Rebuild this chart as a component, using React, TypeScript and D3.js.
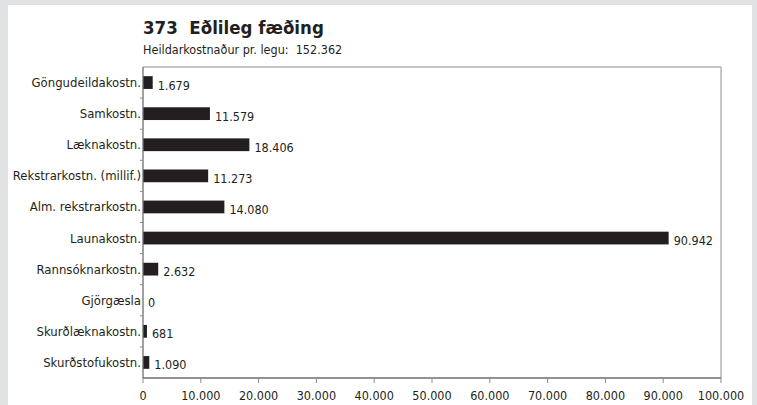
import React from "react";
import * as d3 from "d3";

const categories = [
  "Göngudeildakostn.",
  "Samkostn.",
  "Læknakostn.",
  "Rekstrarkostn. (millif.)",
  "Alm. rekstrarkostn.",
  "Launakostn.",
  "Rannsóknarkostn.",
  "Gjörgæsla",
  "Skurðlæknakostn.",
  "Skurðstofukostn.",
];
const values = [1679, 11579, 18406, 11273, 14080, 90942, 2632, 0, 681, 1090];
const xTicks = [0, 10000, 20000, 30000, 40000, 50000, 60000, 70000, 80000, 90000, 100000];
const titleText = "373  Eðlileg fæðing";
const subtitleText = "Heildarkostnaður pr. legu:  152.362";

const W = 757;
const H = 405;
const FONT = "'DejaVu Sans Condensed', 'Liberation Sans Narrow', 'Noto Sans', sans-serif";
const INK = "#231f20";

const locale = d3.formatLocale({ decimal: ",", thousands: ".", grouping: [3], currency: ["", ""] });
const fmt = locale.format(",d");

export default function App() {
  const m = { left: 143, right: 721, top: 67, bottom: 378 };
  const x = d3.scaleLinear().domain([0, 100000]).range([m.left, m.right]);
  const y = d3.scaleBand<string>().domain(categories).range([m.top, m.bottom]).paddingInner(0.59).paddingOuter(0.295);
  const yStep = d3.scaleBand<string>().domain(categories).range([m.top, m.bottom]).padding(0);

  return (
    <svg width={W} height={H} style={{ position: "absolute", left: 0, top: 0, fontFamily: FONT }}>
      <rect x={0} y={0} width={W} height={H} fill="#e1e2e4" />
      <rect x={8} y={5} width={744} height={H - 5} fill="#ffffff" />

      <text x={m.left} y={34} fontSize={18.5} fontWeight="bold" fill={INK} style={{ whiteSpace: "pre" }}>{titleText}</text>
      <text x={m.left} y={54} fontSize={12.5} fill={INK} style={{ whiteSpace: "pre" }}>{subtitleText}</text>

      {/* frame */}
      <line x1={m.left} x2={m.right} y1={m.top} y2={m.top} stroke="#b3b3b3" strokeWidth={1.5} />
      <line x1={m.right} x2={m.right} y1={m.top} y2={m.bottom} stroke="#b3b3b3" strokeWidth={1.5} />

      {/* bars */}
      {categories.map((c, i) => (
        <rect key={c} x={x(0)} y={y(c)!} width={x(values[i]) - x(0)} height={y.bandwidth()} fill={INK} />
      ))}

      {/* y axis */}
      <line x1={m.left} x2={m.left} y1={m.top} y2={m.bottom} stroke="#6d6e70" strokeWidth={1.3} />
      {categories.slice(1).map((c) => (
        <line key={"t" + c} x1={m.left - 3} x2={m.left} y1={yStep(c)!} y2={yStep(c)!} stroke="#8a8b8d" strokeWidth={1} />
      ))}
      {categories.map((c) => (
        <text key={"l" + c} x={m.left - 2} y={y(c)! + y.bandwidth() / 2 + 4.5} fontSize={13} textAnchor="end" fill={INK}>
          {c}
        </text>
      ))}

      {/* value labels */}
      {categories.map((c, i) => (
        <text key={"v" + c} x={x(values[i]) + 5} y={y(c)! + y.bandwidth() / 2 + 7} fontSize={12.5} fill={INK}>
          {fmt(values[i])}
        </text>
      ))}

      {/* x axis */}
      <line x1={m.left} x2={m.right} y1={m.bottom} y2={m.bottom} stroke="#6d6e70" strokeWidth={1.3} />
      {xTicks.map((t) => (
        <g key={"x" + t}>
          <line x1={x(t)} x2={x(t)} y1={m.bottom} y2={m.bottom + 5} stroke="#8a8b8d" strokeWidth={1} />
          <text x={x(t)} y={400} fontSize={12.5} textAnchor="middle" fill={INK}>
            {fmt(t)}
          </text>
        </g>
      ))}
    </svg>
  );
}
